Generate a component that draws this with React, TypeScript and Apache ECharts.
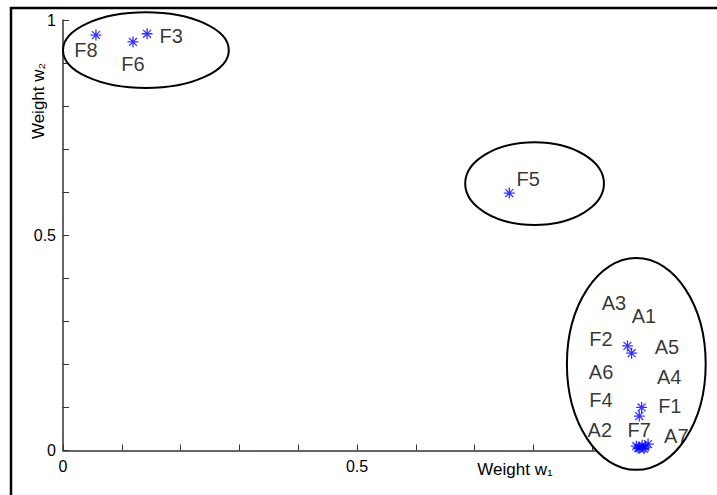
import React, { useEffect, useRef } from 'react';
import * as echarts from 'echarts';

// Data points (weights w1, w2)
const pointNames = ['F8', 'F6', 'F3', 'F5', 'P1', 'P2', 'P3', 'P4', 'P5', 'P6', 'P7', 'P8', 'P9', 'P10', 'P11'];
const w1Values = [0.056, 0.119, 0.143, 0.759, 0.960, 0.967, 0.984, 0.980, 0.975, 0.980, 0.985, 0.990, 0.995, 0.988, 0.978];
const w2Values = [0.965, 0.949, 0.968, 0.598, 0.243, 0.226, 0.100, 0.080, 0.010, 0.005, 0.012, 0.008, 0.015, 0.004, 0.006];

// Text annotations (in data coordinates)
const labelTexts = ['F8', 'F6', 'F3', 'F5', 'A3', 'A1', 'F2', 'A5', 'A6', 'A4', 'F4', 'F1', 'A2', 'F7', 'A7'];
const labelW1 = [0.039, 0.119, 0.184, 0.791, 0.937, 0.988, 0.915, 1.027, 0.915, 1.031, 0.915, 1.032, 0.913, 0.980, 1.043];
const labelW2 = [0.930, 0.898, 0.963, 0.631, 0.343, 0.312, 0.259, 0.240, 0.182, 0.171, 0.117, 0.103, 0.048, 0.048, 0.034];

// Cluster ellipses (data coordinates)
const groupCenterW1 = [0.141, 0.802, 0.975];
const groupCenterW2 = [0.930, 0.620, 0.201];
const groupRadiusW1 = [0.141, 0.118, 0.118];
const groupRadiusW2 = [0.088, 0.096, 0.246];

const xTickLabels = ['0', '0.5'];
const yTickLabels = ['0', '0.5', '1'];

const FONT = '"Liberation Sans", Arial, sans-serif';

const starPath =
  'path://M4.4 0 H5.6 V10 H4.4 Z M0 4.4 H10 V5.6 H0 Z M1 1.8 L1.8 1 L9 8.2 L8.2 9 Z M8.2 1 L9 1.8 L1.8 9 L1 8.2 Z';

function fmt(v: number, allowed: string[]) {
  const s = String(Math.round(v * 10) / 10);
  return allowed.indexOf(s) >= 0 ? s : '';
}

export default function App() {
  const ref = useRef<HTMLDivElement>(null);
  useEffect(() => {
    if (!ref.current) return;
    const chart = echarts.init(ref.current, null, { renderer: 'svg' });
    const axisCommon = {
      type: 'value' as const,
      min: 0,
      max: 1,
      interval: 0.1,
      splitLine: { show: false },
      axisLine: { show: true, lineStyle: { color: '#333', width: 1.5 } },
      axisTick: { show: true, inside: true, length: 6, lineStyle: { color: '#333' } },
    };
    chart.setOption({
      animation: false,
      backgroundColor: '#fff',
      grid: { left: 63, right: 66, top: 20, bottom: 44.5 },
      xAxis: {
        ...axisCommon,
        axisLabel: {
          color: '#000',
          fontSize: 16,
          fontFamily: FONT,
          margin: 8,
          formatter: (v: number) => fmt(v, xTickLabels),
        },
      },
      yAxis: {
        ...axisCommon,
        axisLabel: {
          color: '#000',
          fontSize: 16,
          fontFamily: FONT,
          margin: 7,
          formatter: (v: number) => fmt(v, yTickLabels),
        },
      },
      series: [
        {
          type: 'scatter',
          z: 10,
          clip: false,
          symbol: starPath,
          symbolSize: 11,
          itemStyle: { color: '#0000ff' },
          data: w1Values.map((x, i) => ({ name: pointNames[i], value: [x, w2Values[i]] })),
        },
        {
          type: 'scatter',
          z: 11,
          clip: false,
          symbol: 'circle',
          symbolSize: 1,
          silent: true,
          itemStyle: { color: 'rgba(0,0,0,0)' },
          label: {
            show: true,
            position: 'inside',
            formatter: (p: any) => p.name,
            color: '#000',
            textBorderWidth: 0,
            fontSize: 20,
            fontFamily: FONT,
          },
          data: labelW1.map((x, i) => ({ name: labelTexts[i], value: [x, labelW2[i]] })),
        },
      ],
    });

    const toPx = (x: number, y: number) =>
      chart.convertToPixel({ xAxisIndex: 0, yAxisIndex: 0 }, [x, y]) as number[];

    const ellipses = groupCenterW1.map((cx, i) => {
      const c = toPx(cx, groupCenterW2[i]);
      const r = toPx(cx + groupRadiusW1[i], groupCenterW2[i] + groupRadiusW2[i]);
      return {
        type: 'ellipse',
        z: 5,
        shape: { cx: c[0], cy: c[1], rx: Math.abs(r[0] - c[0]), ry: Math.abs(c[1] - r[1]) },
        style: { fill: '#fff', stroke: '#000', lineWidth: 2 },
        silent: true,
      };
    });

    chart.setOption({
      graphic: [
        {
          type: 'polyline',
          z: 0,
          shape: { points: [[11, 600], [11, 8], [800, 8]] },
          style: { fill: 'none', stroke: '#000', lineWidth: 2.5 },
          silent: true,
        },
        ...ellipses,
        {
          type: 'text',
          z: 12,
          x: 515,
          y: 469,
          style: {
            text: 'Weight w\u2081',
            font: '17px ' + FONT,
            fill: '#000',
            textAlign: 'center',
            textVerticalAlign: 'middle',
          },
        },
        {
          type: 'text',
          z: 12,
          x: 38,
          y: 101,
          rotation: Math.PI / 2,
          style: {
            text: 'Weight w\u2082',
            font: '17px ' + FONT,
            fill: '#000',
            textAlign: 'center',
            textVerticalAlign: 'middle',
          },
        },
      ],
    });
    return () => chart.dispose();
  }, []);
  return (
    <div
      ref={ref}
      style={{ position: 'absolute', left: 0, top: 0, width: 717, height: 495 }}
    />
  );
}
